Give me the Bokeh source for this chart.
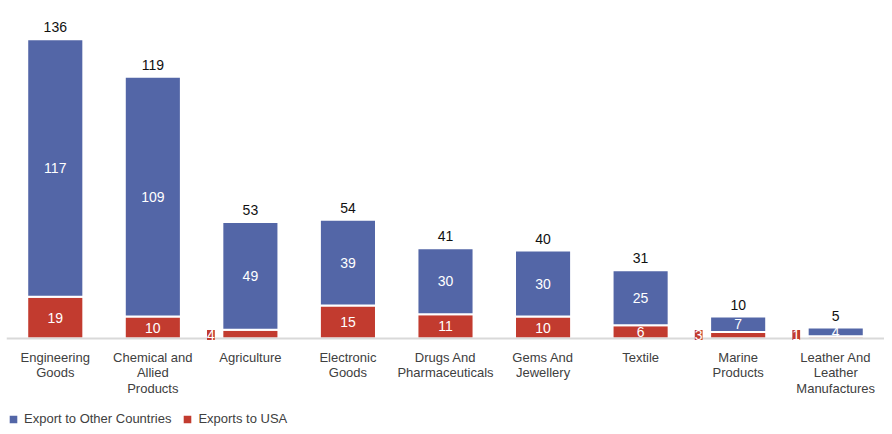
from bokeh.plotting import figure
from bokeh.models import (ColumnDataSource, Range1d, FixedTicker, LabelSet, Legend,
                          LegendItem, LinearAxis)
from bokeh.core.properties import value
from bokeh.embed import file_html
from bokeh.resources import INLINE

categories = ["Engineering Goods", "Chemical and Allied Products", "Agriculture",
              "Electronic Goods", "Drugs And Pharmaceuticals", "Gems And Jewellery",
              "Textile", "Marine Products", "Leather And Leather Manufactures"]
tick_labels = ["Engineering\nGoods", "Chemical and\nAllied\nProducts", "Agriculture",
               "Electronic\nGoods", "Drugs And\nPharmaceuticals", "Gems And\nJewellery",
               "Textile", "Marine\nProducts", "Leather And\nLeather\nManufactures"]
exports_usa = [19, 10, 4, 15, 11, 10, 6, 3, 1]
exports_other = [117, 109, 49, 39, 30, 30, 25, 7, 4]
totals = [136, 119, 53, 54, 41, 40, 31, 10, 5]

BLUE = "#5366a7"
RED = "#c23b2f"
FONT = "Liberation Sans"

xs = list(range(len(categories)))
src = ColumnDataSource(dict(
    x=xs, cat=categories, usa=exports_usa, other=exports_other, total=totals,
    total_txt=[str(v) for v in totals],
    other_mid=[u + o / 2 for u, o in zip(exports_usa, exports_other)],
    other_txt=[str(v) for v in exports_other],
))
big = [i for i, v in enumerate(exports_usa) if v >= 5]
small = [i for i, v in enumerate(exports_usa) if v < 5]
src_big = ColumnDataSource(dict(x=[xs[i] for i in big], y=[exports_usa[i] / 2 for i in big],
                                t=[str(exports_usa[i]) for i in big]))
src_small = ColumnDataSource(dict(x=[xs[i] for i in small], y=[0 for i in small],
                                  t=[str(exports_usa[i]) for i in small]))

# 2.2 px per unit; the frame runs down past the zero line to hold labels and legend
p = figure(frame_width=878, frame_height=426, output_backend="svg", toolbar_location=None,
           x_range=Range1d(-0.5, 8.5), y_range=Range1d(-96 / 2.2, 150),
           x_axis_location=None, y_axis_location=None,
           min_border_left=6, min_border_right=0, min_border_top=8, min_border_bottom=0)
p.outline_line_color = None
p.background_fill_color = "white"
p.border_fill_color = "white"
p.xgrid.visible = False
p.ygrid.visible = False

r = p.vbar_stack(["usa", "other"], x="x", width=0.575, source=src,
                 color=[RED, BLUE], line_color="white", line_width=2)

ax = LinearAxis(fixed_location=0, ticker=FixedTicker(ticks=xs),
                major_label_overrides={i: t for i, t in zip(xs, tick_labels)},
                major_tick_line_color=None, minor_tick_line_color=None,
                major_tick_out=0, major_tick_in=0, major_label_standoff=11,
                axis_line_color="#d9d9d9", axis_line_width=2,
                major_label_text_font=FONT, major_label_text_font_size="13px",
                major_label_text_color="#404040", major_label_text_line_height=1.05)
p.add_layout(ax, "below")

lbl = dict(text_align="center", text_font=value(FONT), text_font_size="14px")
p.add_layout(LabelSet(x="x", y="total", text="total_txt", source=src, y_offset=7,
                      text_baseline="bottom", text_color="#111111", **lbl))
p.add_layout(LabelSet(x="x", y="other_mid", text="other_txt", source=src,
                      text_baseline="middle", text_color="white", **lbl))
p.add_layout(LabelSet(x="x", y="y", text="t", source=src_big,
                      text_baseline="middle", text_color="white", **lbl))
p.add_layout(LabelSet(x="x", y="y", text="t", source=src_small, x_offset=-39.5, y_offset=3.5,
                      text_baseline="middle", text_color="white",
                      background_fill_color=RED, **lbl))

legend = Legend(items=[LegendItem(label="Export to Other Countries", renderers=[r[1]]),
                       LegendItem(label="Exports to USA", renderers=[r[0]])],
                orientation="horizontal", location=(1, 8),
                glyph_width=12, glyph_height=12, label_standoff=5, spacing=10,
                padding=0, margin=0, border_line_color=None, background_fill_alpha=0,
                label_text_font=FONT, label_text_font_size="13px",
                label_text_color="#404040")
p.add_layout(legend)

open("out.html", "w").write(file_html(p, INLINE))
